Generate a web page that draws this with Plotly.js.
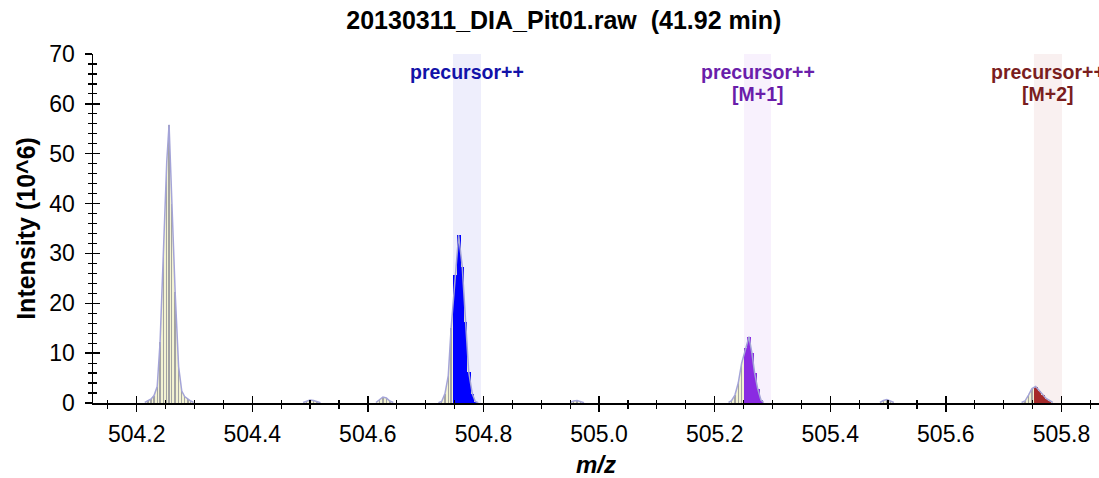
<!DOCTYPE html>
<html>
<head>
<meta charset="utf-8">
<script src="https://cdn.plot.ly/plotly-3.0.1.min.js"></script>
<style>html,body{margin:0;padding:0;background:#fff;}#chart{width:1099px;height:478px;}</style>
</head>
<body>
<div id="chart"></div>
<script>
// ---- data (m/z, intensity in 10^6) ----
const peak1Mz  = [504.2140, 504.2195, 504.2250, 504.2300, 504.2355, 504.2405, 504.2460, 504.2520, 504.2560, 504.2605, 504.2665, 504.2725, 504.2780, 504.2830, 504.2885, 504.2935, 504.2985];
const peak1Int = [0.1, 0.4, 0.8, 1.5, 3.3, 12.3, 29.7, 48.4, 55.8, 40.0, 22.3, 7.3, 2.4, 1.3, 0.8, 0.4, 0.1];
const bump1Mz  = [504.488, 504.494, 504.500, 504.506, 504.512, 504.518];
const bump1Int = [0.1, 0.4, 0.6, 0.5, 0.2, 0.05];
const bump2Mz  = [504.614, 504.620, 504.626, 504.632, 504.638, 504.644];
const bump2Int = [0.1, 0.6, 1.2, 1.0, 0.4, 0.1];
const blueMz   = [504.7220, 504.7277, 504.7334, 504.7391, 504.7440, 504.7512, 504.7571, 504.7633, 504.7685, 504.7744, 504.7806, 504.7858, 504.7910];
const blueInt  = [0.05, 0.3, 1.9, 5.5, 15.0, 25.7, 33.7, 27.3, 16.3, 6.3, 1.9, 0.3, 0.05];
const bump3Mz  = [504.950, 504.956, 504.962, 504.968, 504.974];
const bump3Int = [0.1, 0.4, 0.5, 0.2, 0.05];
const purpleMz = [505.2240, 505.2294, 505.2351, 505.2408, 505.2467, 505.2536, 505.2594, 505.2645, 505.2692, 505.2744, 505.2801, 505.2850];
const purpleInt= [0.1, 0.5, 1.6, 4.0, 8.0, 11.0, 13.3, 10.0, 6.0, 2.9, 0.6, 0.1];
const bump4Mz  = [505.486, 505.492, 505.498, 505.504, 505.510];
const bump4Int = [0.1, 0.5, 0.7, 0.4, 0.1];
const redMz    = [505.7310, 505.7369, 505.7430, 505.7490, 505.7554, 505.7619, 505.7685, 505.7735, 505.7792, 505.7850];
const redInt   = [0.1, 0.4, 1.6, 2.9, 3.3, 2.5, 1.6, 0.9, 0.5, 0.1];

const bandStart = [504.7472, 505.2509, 505.7524];
const bandEnd   = [504.7957, 505.2974, 505.8009];
const bandLine1 = ['precursor++', 'precursor++', 'precursor++'];
const bandLine2 = ['', '[M+1]', '[M+2]'];
const barColors  = ['#0000FF', '#8A2BE2', '#A52A2A'];
const textColors = ['#1212A8', '#6A1EAA', '#7A1E1E'];
const bandColors = ['#EEEEFC', '#F8F1FD', '#F9F0F0'];

const xRange = [504.1244, 505.865];
const yRange = [0, 70];

const FONT = 'Liberation Sans, Arial, Helvetica, sans-serif';

// ---- build traces ----
const clusters = [
  {mz: peak1Mz, it: peak1Int, band: -1},
  {mz: bump1Mz, it: bump1Int, band: -1},
  {mz: bump2Mz, it: bump2Int, band: -1},
  {mz: blueMz, it: blueInt, band: 0},
  {mz: bump3Mz, it: bump3Int, band: -1},
  {mz: purpleMz, it: purpleInt, band: 1},
  {mz: bump4Mz, it: bump4Int, band: -1},
  {mz: redMz, it: redInt, band: 2}
];

const traces = [];
// filled profile area (base subplot, drawn underneath)
clusters.forEach(c => {
  traces.push({type:'scatter', mode:'lines', x:c.mz, y:c.it, fill:'tozeroy', xaxis:'x', yaxis:'y',
    fillcolor:'#F3F3D2', line:{color:'rgba(0,0,0,0)', width:0}, hoverinfo:'skip', showlegend:false});
});
// gray sticks (overlay subplot)
const gx = [], gy = [];
clusters.forEach(c => c.mz.forEach((m, i) => {
  const b = c.band;
  if (b < 0 || m < bandStart[b] || m > bandEnd[b]) { gx.push(m); gy.push(c.it[i]); }
}));
traces.push({type:'bar', x:gx, y:gy, xaxis:'x2', yaxis:'y2', width:0.0024, marker:{color:'#A3A3A3', line:{width:0}}, hoverinfo:'skip', showlegend:false});
// coloured bars
clusters.forEach(c => {
  if (c.band < 0) return;
  const bx = [], by = [];
  c.mz.forEach((m, i) => { if (m >= bandStart[c.band] && m <= bandEnd[c.band]) { bx.push(m); by.push(c.it[i]); } });
  traces.push({type:'bar', x:bx, y:by, xaxis:'x2', yaxis:'y2', width:0.0066, marker:{color:barColors[c.band], line:{width:0}}, hoverinfo:'skip', showlegend:false});
});
// lavender profile line (on top)
clusters.forEach(c => {
  traces.push({type:'scatter', mode:'lines', x:c.mz, y:c.it, xaxis:'x2', yaxis:'y2', line:{color:'#A4A4D8', width:1.5}, hoverinfo:'skip', showlegend:false});
});

const shapes = bandStart.map((s, i) => ({type:'rect', xref:'x', yref:'paper', x0:s, x1:bandEnd[i], y0:0, y1:1,
  fillcolor:bandColors[i], line:{width:0}, layer:'below'}));

const annotations = [];
bandStart.forEach((s, i) => {
  [bandLine1[i], bandLine2[i]].forEach((t, k) => {
    if (!t) return;
    annotations.push({
      x:(s + bandEnd[i]) / 2, y:k === 0 ? 0.9484 : 0.8854, xref:'x', yref:'paper', yanchor:'middle', xanchor:'center',
      text:'<b>' + t + '</b>', showarrow:false,
      font:{family:FONT, size:19.5, color:textColors[i]}, align:'center'
    });
  });
});

const layout = {
  width:1099, height:478,
  margin:{l:93, r:0, t:54, b:75, pad:0},
  paper_bgcolor:'#fff', plot_bgcolor:'rgba(0,0,0,0)',
  font:{family:FONT, color:'#000'},
  barmode:'overlay', bargap:0,
  showlegend:false,
  title:{text:'<b>20130311_DIA_Pit01.raw \u00A0(41.92 min)</b>', font:{family:FONT, size:25, color:'#000'},
    xref:'container', x:0.513, xanchor:'center', yref:'container', y:0.958, yanchor:'middle'},
  xaxis:{range:xRange, autorange:false, showgrid:false, zeroline:false, showline:true, linecolor:'#000', linewidth:1.5,
    ticks:'outside', ticklen:7, tickwidth:1.5, tickcolor:'#000', tick0:504.2, dtick:0.2, tickformat:'.1f',
    minor:{ticks:'outside', ticklen:4, tickwidth:1.2, tickcolor:'#000', dtick:0.05, tick0:504.2, showgrid:false},
    tickfont:{family:FONT, size:23, color:'#000'}, ticklabelstandoff:3,
    title:{text:'<b><i>m/z</i></b>', font:{family:FONT, size:24, color:'#000'}, standoff:23}},
  yaxis:{range:yRange, autorange:false, showgrid:false, zeroline:false, showline:true, linecolor:'#000', linewidth:1.5,
    ticks:'outside', ticklen:7, tickwidth:1.5, tickcolor:'#000', tick0:0, dtick:10,
    minor:{ticks:'outside', ticklen:4, tickwidth:1.2, tickcolor:'#000', dtick:2, showgrid:false},
    tickfont:{family:FONT, size:23, color:'#000'}, ticklabelstandoff:5,
    title:{text:'<b>Intensity (10^6)</b>', font:{family:FONT, size:25, color:'#000'}, standoff:6}},
  xaxis2:{overlaying:'x', anchor:'y2', side:'bottom', range:xRange, autorange:false, showgrid:false, zeroline:false, showline:false,
    ticks:'inside', ticklen:7, tickwidth:1.5, tickcolor:'#000', tick0:504.2, dtick:0.2, showticklabels:false,
    minor:{ticks:'inside', ticklen:3, tickwidth:1.2, tickcolor:'#000', dtick:0.05, tick0:504.2, showgrid:false}},
  yaxis2:{overlaying:'y', anchor:'x2', side:'left', range:yRange, autorange:false, showgrid:false, zeroline:false, showline:false,
    ticks:'inside', ticklen:7, tickwidth:1.5, tickcolor:'#000', tick0:0, dtick:10, showticklabels:false,
    minor:{ticks:'inside', ticklen:4, tickwidth:1.2, tickcolor:'#000', dtick:2, showgrid:false}},
  shapes:shapes,
  annotations:annotations
};

Plotly.newPlot('chart', traces, layout, {staticPlot:true, displayModeBar:false});
</script>
</body>
</html>
